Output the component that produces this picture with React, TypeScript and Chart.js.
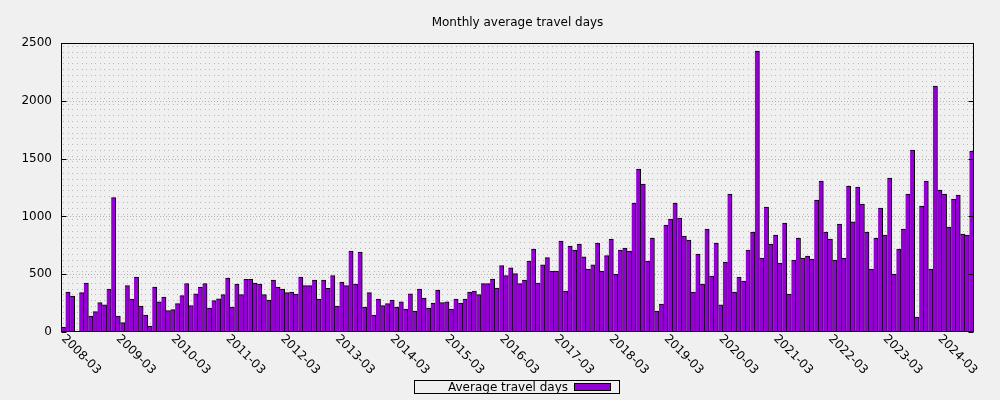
import React, { useEffect, useRef } from 'react';
import { Chart, registerables } from 'chart.js';

Chart.register(...registerables);

// ---- data ----
const startYear = 2008;
const startMonth = 3;
const monthCount = 200;

const categories: string[] = [];
for (let i = 0; i < monthCount; i++) {
  const m = startMonth - 1 + i;
  const yy = startYear + Math.floor(m / 12);
  const mm = (m % 12) + 1;
  categories.push(`${yy}-${mm < 10 ? '0' + mm : mm}`);
}

const travelDays: number[] = [
  43, 346, 311, 0, 340, 424, 138, 176, 254, 234, 372, 1162, 138, 81, 401, 285, 476, 225, 147, 52,
  389, 262, 303, 185, 193, 245, 314, 418, 228, 331, 389, 418, 207, 271,
  288, 323, 467, 216, 415, 323, 456, 456, 424, 415, 323, 277, 450, 389, 372, 340, 346, 329, 476, 401,
  401, 450, 285, 450, 378, 487, 225, 432, 401, 701, 415, 692, 216, 340,
  147, 285, 228, 245, 277, 216, 262, 199, 331, 182, 372, 294, 207, 251, 363, 254, 262, 199, 285, 251,
  285, 346, 355, 323, 418, 418, 458, 380, 574, 487, 556, 505, 418, 450,
  614, 718, 424, 582, 643, 528, 528, 787, 355, 744, 709, 761, 651, 545, 580, 770, 528, 660, 804, 502,
  709, 727, 701, 1116, 1410, 1280, 614, 813, 182, 242, 925, 977, 1116, 986,
  830, 796, 346, 675, 415, 891, 484, 770, 234, 605, 1194, 346, 476, 441, 709, 865, 2431, 640, 1081, 761,
  839, 597, 943, 329, 623, 813, 640, 657, 631, 1142, 1306, 865, 804, 623,
  934, 640, 1263, 952, 1254, 1107, 865, 545, 813, 1073, 839, 1332, 502, 718, 891, 1194, 1574, 130, 1090, 1306,
  545, 2128, 1228, 1194, 908, 1150, 1185, 848, 839, 1565,
];

const tickLabels: string[] = [
  '2008-03', '2009-03', '2010-03', '2011-03', '2012-03', '2013-03', '2014-03', '2015-03', '2016-03',
  '2017-03', '2018-03', '2019-03', '2020-03', '2021-03', '2022-03', '2023-03', '2024-03',
];

const yTicks: number[] = [0, 500, 1000, 1500, 2000, 2500];
const titleText = 'Monthly average travel days';
const seriesLabel = 'Average travel days';

const FONT_FAMILY = '"DejaVu Sans", sans-serif';
const FONT = `12px ${FONT_FAMILY}`;
const BAR_COLOR = '#9400d3';

const gnuplotLook = {
  id: 'gnuplotLook',
  beforeDatasetsDraw(chart: any) {
    const { ctx, chartArea: a, scales } = chart;
    const x = scales.x;
    const y = scales.y;
    ctx.save();
    ctx.beginPath();
    ctx.rect(a.left, a.top, a.right - a.left, a.bottom - a.top);
    ctx.clip();
    ctx.fillStyle = '#b8b8b8';
    for (let i = 0; i < categories.length; i++) {
      const px = Math.round(x.getPixelForValue(i));
      for (let v = 25; v < 2500; v += 50) {
        const py = Math.round(y.getPixelForValue(v));
        ctx.fillRect(px, py, 1, 1);
      }
    }
    ctx.strokeStyle = '#b0b0b0';
    ctx.lineWidth = 1;
    ctx.setLineDash([1, 2]);
    ctx.beginPath();
    for (const v of yTicks) {
      if (v <= 0 || v >= 2500) continue;
      const py = Math.round(y.getPixelForValue(v)) + 0.5;
      ctx.moveTo(a.left, py);
      ctx.lineTo(a.right, py);
    }
    ctx.stroke();
    ctx.restore();
  },
  afterDraw(chart: any) {
    const { ctx, chartArea: a, scales } = chart;
    const x = scales.x;
    const y = scales.y;
    ctx.save();
    ctx.strokeStyle = '#000';
    ctx.lineWidth = 1;
    ctx.setLineDash([]);
    const L = Math.round(a.left) + 0.5;
    const R = Math.round(a.right) - 0.5;
    const T = Math.round(a.top) + 0.5;
    const B = Math.round(a.bottom) - 0.5;
    ctx.strokeRect(L, T, R - L, B - T);
    ctx.beginPath();
    for (const v of yTicks) {
      const py = Math.round(y.getPixelForValue(v)) + 0.5;
      ctx.moveTo(L, py);
      ctx.lineTo(L + 5, py);
      ctx.moveTo(R, py);
      ctx.lineTo(R - 5, py);
    }
    ctx.stroke();
    ctx.fillStyle = '#000';
    ctx.font = FONT;
    for (const t of tickLabels) {
      const idx = categories.indexOf(t);
      if (idx < 0) continue;
      const px = x.getPixelForValue(idx);
      ctx.save();
      ctx.translate(px, a.bottom + 5);
      ctx.rotate(Math.PI / 4);
      ctx.textAlign = 'left';
      ctx.textBaseline = 'middle';
      ctx.fillText(t, 0, 0);
      ctx.restore();
    }
    ctx.textAlign = 'center';
    ctx.textBaseline = 'alphabetic';
    ctx.fillText(titleText, (a.left + a.right) / 2, 26);
    ctx.strokeRect(414.5, 380.5, 205, 13);
    ctx.textAlign = 'left';
    ctx.fillText(seriesLabel, 448, 391);
    ctx.fillStyle = BAR_COLOR;
    ctx.fillRect(574, 383, 37, 8);
    ctx.strokeRect(574.5, 383.5, 36, 7);
    ctx.restore();
  },
};

export default function App() {
  const canvasRef = useRef<HTMLCanvasElement | null>(null);

  useEffect(() => {
    const canvas = canvasRef.current;
    if (!canvas) return;
    const chart = new Chart(canvas, {
      type: 'bar',
      data: {
        labels: categories,
        datasets: [
          {
            label: seriesLabel,
            data: travelDays,
            backgroundColor: BAR_COLOR,
            borderColor: '#000',
            borderWidth: 1,
            borderSkipped: 'left',
            barPercentage: 1,
            categoryPercentage: 1,
          },
        ],
      },
      options: {
        animation: false,
        responsive: false,
        maintainAspectRatio: false,
        layout: { padding: { left: 0, right: 26, top: 43, bottom: 0 } },
        plugins: {
          legend: { display: false },
          title: { display: false },
          tooltip: { enabled: false },
        },
        scales: {
          x: {
            type: 'category',
            offset: true,
            grid: { display: false, drawTicks: false },
            border: { display: false },
            ticks: { display: false },
            afterFit: (s: any) => {
              s.height = 68;
            },
          },
          y: {
            min: 0,
            max: 2500,
            grid: { display: false, drawTicks: false },
            border: { display: false },
            ticks: {
              stepSize: 500,
              padding: 9,
              color: '#000',
              font: { family: FONT_FAMILY, size: 12 },
              callback: (v: any) => String(v),
            },
            afterFit: (s: any) => {
              s.width = 61;
            },
          },
        },
      },
      plugins: [gnuplotLook],
    });
    return () => chart.destroy();
  }, []);

  return (
    <div
      style={{
        position: 'fixed',
        left: 0,
        top: 0,
        width: 1000,
        height: 400,
        background: '#f0f0f0',
      }}
    >
      <canvas ref={canvasRef} width={1000} height={400} style={{ width: 1000, height: 400, display: 'block' }} />
    </div>
  );
}
